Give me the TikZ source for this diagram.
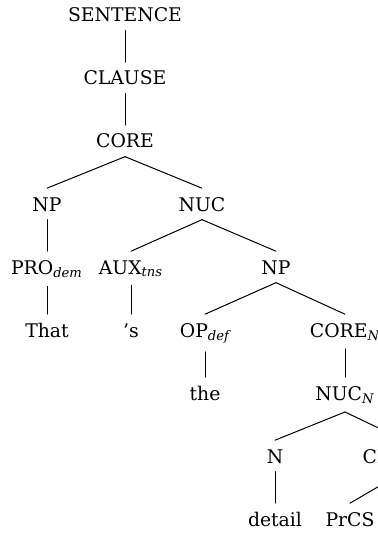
\documentclass[tikz,border=0pt]{standalone}
\usepackage{fontspec}
\setmainfont{DejaVu Serif}
% italic subscript for category labels (PRO_dem, AUX_tns, ...)
\newcommand\lsub[1]{\textsubscript{\itshape #1}}
\begin{document}
\begin{tikzpicture}[x=0.5pt,y=-0.5pt,
  lbl/.style={anchor=base, inner xsep=1pt, inner ysep=4pt, text height=7.2pt,
              font=\fontsize{9.4}{11}\selectfont},
  edge/.style={line width=0.5pt, line cap=round}]
\useasboundingbox (0,0) rectangle (378,535);
\clip (0,0) rectangle (378,535);

% upper layers
\node[lbl] (sent)   at (125,22)  {SENTENCE};
\node[lbl] (clause) at (125,85)  {CLAUSE};
\node[lbl] (core)   at (125,148) {CORE};
\node[lbl] (np)     at (47,211)  {NP};
\node[lbl] (nuc)    at (202,211) {NUC};
\node[lbl] (pro)    at (47,274)  {PRO\lsub{dem}};
\node[lbl] (aux)    at (131,274) {AUX\lsub{tns}};
\node[lbl] (npb)    at (276,274) {NP};
\node[lbl] (that)   at (47,337)  {That};
\node[lbl] (s)      at (131,337) {’s};
\node[lbl] (op)     at (205,337) {OP\lsub{def}};
\node[lbl] (coren)  at (345,337) {CORE\lsub{N}};
\node[lbl] (the)    at (205,400) {the};
\node[lbl] (nucn)   at (345,400) {NUC\lsub{N}};
\node[lbl] (n)      at (275,463) {N};
\node[lbl] (rel)    at (404,463) {CLAUSE};
\node[lbl] (detail) at (275,526) {detail};
\node[lbl] (prcs)   at (350,526) {PrCS};

% branches
\draw[edge] (sent.south)   -- (clause.north);
\draw[edge] (clause.south) -- (core.north);
\draw[edge] (core.south)   -- (np.north);
\draw[edge] (core.south)   -- (nuc.north);
\draw[edge] (np.south)     -- (pro.north);
\draw[edge] (nuc.south)    -- (aux.north);
\draw[edge] (nuc.south)    -- (npb.north);
\draw[edge] (pro.south)    -- (that.north);
\draw[edge] (aux.south)    -- (s.north);
\draw[edge] (npb.south)    -- (op.north);
\draw[edge] (npb.south)    -- (coren.north);
\draw[edge] (op.south)     -- (the.north);
\draw[edge] (coren.south)  -- (nucn.north);
\draw[edge] (nucn.south)   -- (n.north);
\draw[edge] (nucn.south)   -- (rel.north);
\draw[edge] (n.south)      -- (detail.north);
\draw[edge] (rel.south)    -- (prcs.north);
\end{tikzpicture}
\end{document}
